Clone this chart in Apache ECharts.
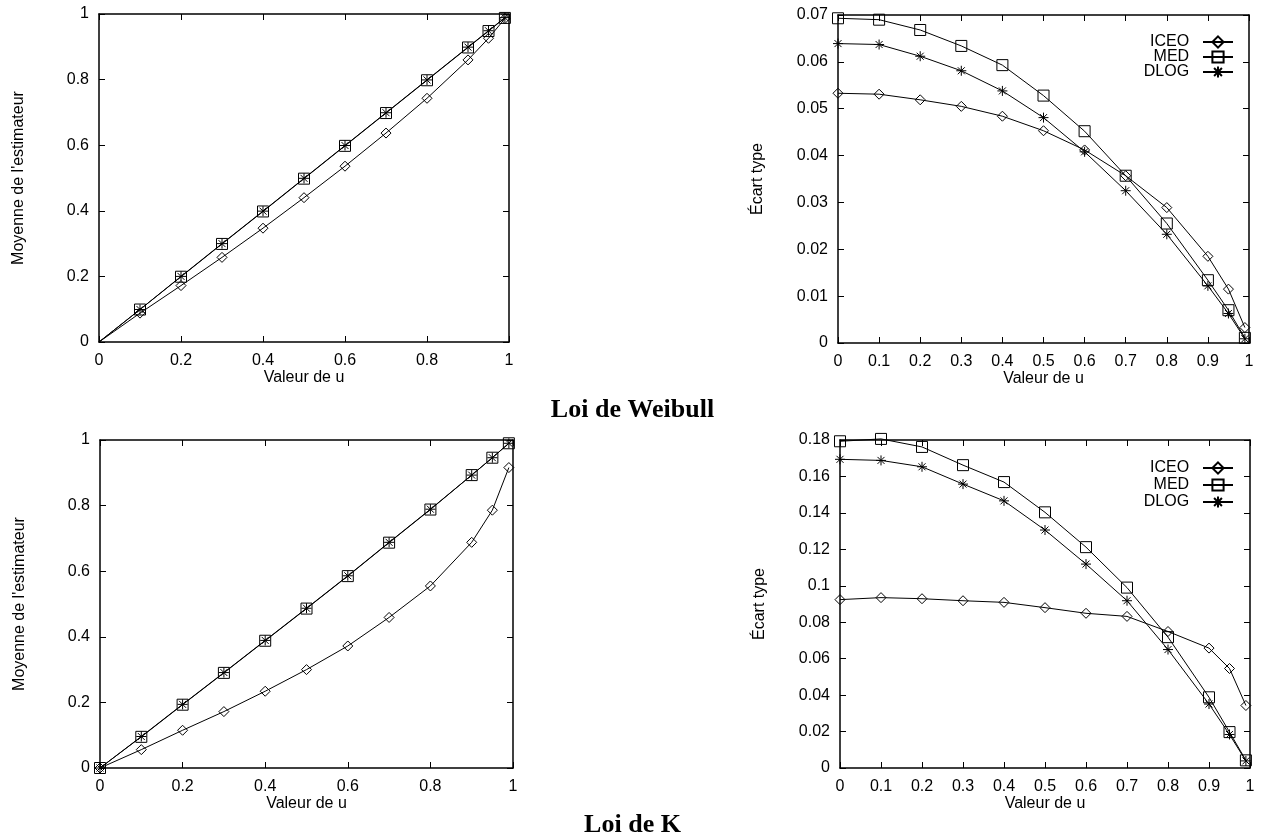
<!DOCTYPE html>
<html>
<head>
<meta charset="utf-8">
<script src="https://cdn.jsdelivr.net/npm/echarts@6/dist/echarts.min.js"></script>
<style>
html,body{margin:0;padding:0;background:#fff;}
#main{width:1265px;height:837px;}
</style>
</head>
<body>
<div id="main"></div>
<script>
// ---- data ----
const uValues = [0, 0.1, 0.2, 0.3, 0.4, 0.5, 0.6, 0.7, 0.8, 0.9, 0.95, 0.99];
const seriesNames = ['ICEO', 'MED', 'DLOG'];

// Loi de Weibull - moyenne
const weibullMeanICEO = [0, 0.088, 0.172, 0.258, 0.347, 0.440, 0.536, 0.637, 0.743, 0.860, 0.926, 0.986];
const weibullMeanMED  = [0, 0.099, 0.199, 0.299, 0.398, 0.498, 0.598, 0.698, 0.798, 0.898, 0.948, 0.988];
const weibullMeanDLOG = [0, 0.099, 0.200, 0.300, 0.399, 0.499, 0.599, 0.699, 0.799, 0.899, 0.949, 0.989];
// Loi de Weibull - écart type
const weibullSdICEO = [0.0533, 0.0531, 0.0519, 0.0505, 0.0484, 0.0453, 0.0412, 0.0357, 0.0289, 0.0185, 0.0115, 0.0033];
const weibullSdMED  = [0.0693, 0.0690, 0.0668, 0.0634, 0.0593, 0.0528, 0.0452, 0.0357, 0.0255, 0.0134, 0.0070, 0.0011];
const weibullSdDLOG = [0.0639, 0.0637, 0.0612, 0.0581, 0.0538, 0.0481, 0.0408, 0.0325, 0.0232, 0.0122, 0.0063, 0.0009];

// Loi de K - moyenne
const kMeanICEO = [0, 0.056, 0.115, 0.172, 0.234, 0.300, 0.372, 0.459, 0.555, 0.688, 0.786, 0.916];
const kMeanMED  = [0, 0.095, 0.193, 0.290, 0.388, 0.486, 0.585, 0.687, 0.788, 0.893, 0.946, 0.990];
const kMeanDLOG = [0, 0.096, 0.194, 0.291, 0.389, 0.487, 0.586, 0.688, 0.789, 0.893, 0.946, 0.990];
// Loi de K - écart type
const kSdICEO = [0.0924, 0.0935, 0.0929, 0.0918, 0.0909, 0.0880, 0.0849, 0.0832, 0.0749, 0.0658, 0.0546, 0.0343];
const kSdMED  = [0.1793, 0.1806, 0.1762, 0.1662, 0.1569, 0.1403, 0.1212, 0.0990, 0.0718, 0.0388, 0.0197, 0.0042];
const kSdDLOG = [0.1694, 0.1688, 0.1653, 0.1558, 0.1466, 0.1306, 0.1119, 0.0918, 0.0650, 0.0351, 0.0184, 0.0039];

const titles = ['Loi de Weibull', 'Loi de K'];
const xName = 'Valeur de u';
const yNames = ["Moyenne de l'estimateur", 'Écart type'];

// ---- layout / style ----
const FONT = 'Liberation Sans, Helvetica, Arial, sans-serif';
const grids = [
  {left: 99,  top: 14,  width: 410, height: 328},
  {left: 838, top: 15,  width: 411, height: 328},
  {left: 100, top: 440, width: 413, height: 328},
  {left: 840, top: 440, width: 410, height: 328}
];
const axisCfg = [
  {xInt: 0.2, yMax: 1,    yInt: 0.2,  yName: yNames[0]},
  {xInt: 0.1, yMax: 0.07, yInt: 0.01, yName: yNames[1]},
  {xInt: 0.2, yMax: 1,    yInt: 0.2,  yName: yNames[0]},
  {xInt: 0.1, yMax: 0.18, yInt: 0.02, yName: yNames[1]}
];
const panelData = [
  [weibullMeanICEO, weibullMeanMED, weibullMeanDLOG],
  [weibullSdICEO, weibullSdMED, weibullSdDLOG],
  [kMeanICEO, kMeanMED, kMeanDLOG],
  [kSdICEO, kSdMED, kSdDLOG]
];
const symbols = ['diamond', 'rect', 'path://M5 0L5 10M0 5L10 5M1.5 1.5L8.5 8.5M8.5 1.5L1.5 8.5'];
const symbolSizes = [10, 11, 10];

const axisLine = {show: true, onZero: false, lineStyle: {color: '#000', width: 1.5}};
const axisTick = {show: true, inside: true, length: 6, lineStyle: {color: '#000', width: 1}};
const labelStyle = {color: '#000', fontSize: 16, fontFamily: FONT};

const xAxes = [], yAxes = [], series = [];
grids.forEach((g, gi) => {
  const c = axisCfg[gi];
  xAxes.push({
    gridIndex: gi, type: 'value', min: 0, max: 1, interval: c.xInt, position: 'bottom',
    axisLine, axisTick, splitLine: {show: false},
    axisLabel: Object.assign({margin: 11}, labelStyle),
    name: xName, nameLocation: 'middle', nameGap: 28,
    nameTextStyle: {color: '#000', fontSize: 16, fontFamily: FONT}
  });
  xAxes.push({
    gridIndex: gi, type: 'value', min: 0, max: 1, interval: c.xInt, position: 'top',
    axisLine, axisTick, splitLine: {show: false}, axisLabel: {show: false}
  });
  yAxes.push({
    gridIndex: gi, type: 'value', min: 0, max: c.yMax, interval: c.yInt, position: 'left',
    axisLine, axisTick, splitLine: {show: false},
    axisLabel: Object.assign({margin: 10}, labelStyle),
    name: c.yName, nameLocation: 'middle', nameGap: 72, nameRotate: 90,
    nameTextStyle: {color: '#000', fontSize: 16, fontFamily: FONT}
  });
  yAxes.push({
    gridIndex: gi, type: 'value', min: 0, max: c.yMax, interval: c.yInt, position: 'right',
    axisLine, axisTick, splitLine: {show: false}, axisLabel: {show: false}
  });
  panelData[gi].forEach((vals, si) => {
    const data = uValues.map((u, i) => {
      const item = {value: [u, vals[i]]};
      if (gi === 0 && i === 0) item.symbol = 'none';
      return item;
    });
    series.push({
      name: seriesNames[si], type: 'line',
      xAxisIndex: gi * 2, yAxisIndex: gi * 2,
      data,
      symbol: symbols[si], symbolSize: symbolSizes[si],
      showAllSymbol: true,
      color: '#000',
      lineStyle: {color: '#000', width: 1},
      itemStyle: si === 2 ? {color: '#000', borderColor: '#000', borderWidth: 1}
                          : {color: 'rgba(255,255,255,0)', borderColor: '#000', borderWidth: 1},
      emphasis: {disabled: true},
      clip: false,
      z: 2 + si
    });
  });
});

const legendBase = {
  orient: 'vertical', align: 'right', right: 26,
  itemWidth: 30, itemHeight: 14, itemGap: -1,
  data: seriesNames, selectedMode: false,
  formatter: name => name + '  ',
  textStyle: {color: '#000', fontSize: 16, fontFamily: FONT}
};

const titleStyle = {fontFamily: 'Liberation Serif, Times New Roman, serif', fontWeight: 'bold', fontSize: 26, color: '#000'};

const option = {
  animation: false,
  backgroundColor: '#fff',
  title: [
    {text: titles[0], left: 'center', top: 392, textStyle: titleStyle},
    {text: titles[1], left: 'center', top: 807, textStyle: titleStyle}
  ],
  legend: [
    Object.assign({}, legendBase, {top: 29}),
    Object.assign({}, legendBase, {top: 455, itemGap: 1})
  ],
  grid: grids,
  xAxis: xAxes,
  yAxis: yAxes,
  series
};

const chart = echarts.init(document.getElementById('main'), null, {renderer: 'canvas'});
chart.setOption(option);
</script>
</body>
</html>
